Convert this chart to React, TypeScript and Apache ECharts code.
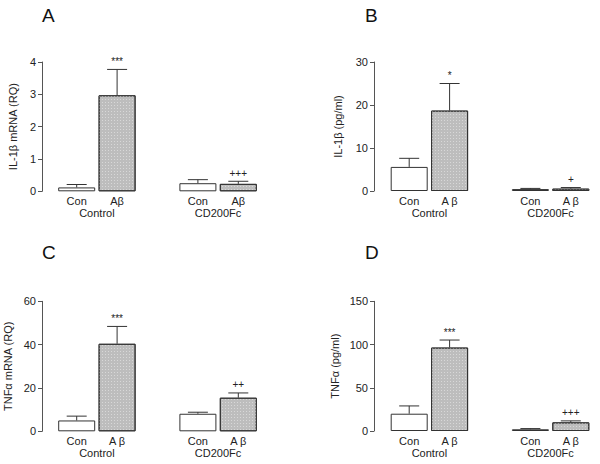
import React, { useEffect, useRef } from "react";
import * as echarts from "echarts";

const panelLetters = ["A", "B", "C", "D"];
const yTitles = ["IL-1β mRNA (RQ)", "IL-1β (pg/ml)", "TNFα mRNA (RQ)", "TNFα (pg/ml)"];
const catLabelsA = ["Con", "Aβ", "", "Con", "Aβ"];
const catLabelsOther = ["Con", "A β", "", "Con", "A β"];
const groupLabels = ["Control", "CD200Fc"];
const yMax = [4, 30, 60, 150];
const yInterval = [1, 10, 20, 50];

// bar order: Control-Con, Control-Aβ, CD200Fc-Con, CD200Fc-Aβ
const meansA = [0.12, 2.97, 0.25, 0.23];
const semA = [0.09, 0.8, 0.11, 0.08];
const sigA = ["", "***", "", "+++"];

const meansB = [5.6, 18.7, 0.45, 0.55];
const semB = [2.0, 6.3, 0.15, 0.25];
const sigB = ["", "*", "", "+"];

const meansC = [5.0, 40.4, 8.1, 15.5];
const semC = [2.0, 8.0, 0.7, 2.2];
const sigC = ["", "***", "", "++"];

const meansD = [20.0, 96.5, 2.0, 10.0];
const semD = [9.0, 8.7, 0.8, 1.7];
const sigD = ["", "***", "", "+++"];

const allMeans = [meansA, meansB, meansC, meansD];
const allSem = [semA, semB, semC, semD];
const allSig = [sigA, sigB, sigC, sigD];
const barSlots = [0, 1, 3, 4];

const FONT = "Liberation Sans, Arial, sans-serif";

// layout
const grids = [
  { left: 56.5, top: 62, width: 202, height: 129.3, axisOffset: 14.5, nameGap: 24 },
  { left: 389, top: 62, width: 202, height: 129, axisOffset: 15, nameGap: 31 },
  { left: 56.5, top: 301.3, width: 202, height: 130, axisOffset: 14.5, nameGap: 29 },
  { left: 389, top: 301.3, width: 202, height: 129.7, axisOffset: 15, nameGap: 34 },
];
const letterPos = [
  [49, 15],
  [372, 15],
  [49, 252],
  [372, 252],
];

export default function App() {
  const ref = useRef<HTMLDivElement>(null);
  useEffect(() => {
    if (!ref.current) return;
    const chart = echarts.init(ref.current, null, { renderer: "svg" });

    const grid: any[] = [];
    const xAxis: any[] = [];
    const yAxis: any[] = [];
    const series: any[] = [];
    const graphic: any[] = [];

    for (let p = 0; p < 4; p++) {
      const g = grids[p];
      grid.push({ left: g.left, top: g.top, width: g.width, height: g.height, containLabel: false });
      const cats = p === 0 ? catLabelsA : catLabelsOther;
      xAxis.push({
        type: "category",
        gridIndex: p,
        data: cats,
        axisLine: { show: false, onZero: false },
        axisTick: { show: false },
        axisLabel: { fontFamily: FONT, fontSize: 11, color: "#222", margin: 4, interval: 0 },
      });
      xAxis.push({
        type: "value",
        gridIndex: p,
        position: "bottom",
        offset: 12,
        min: -0.5,
        max: 4.5,
        interval: 0.5,
        axisLine: { show: false, onZero: false },
        axisTick: { show: false },
        splitLine: { show: false },
        axisLabel: {
          fontFamily: FONT,
          fontSize: 11,
          color: "#222",
          margin: 4,
          showMinLabel: true,
          showMaxLabel: true,
          formatter: (v: number) =>
            Math.abs(v - 0.5) < 1e-6 ? groupLabels[0] : Math.abs(v - 3.5) < 1e-6 ? groupLabels[1] : "",
        },
      });
      yAxis.push({
        type: "value",
        gridIndex: p,
        min: 0,
        max: yMax[p],
        interval: yInterval[p],
        offset: g.axisOffset,
        name: yTitles[p],
        nameLocation: "middle",
        nameGap: g.nameGap,
        nameTextStyle: { fontFamily: FONT, fontSize: 11, color: "#222" },
        axisLine: { show: true, onZero: false, lineStyle: { color: "#555", width: 1 } },
        axisTick: { show: true, length: 4, lineStyle: { color: "#555" } },
        splitLine: { show: false },
        axisLabel: { fontFamily: FONT, fontSize: 11, color: "#222", margin: 6 },
      });

      const means = allMeans[p];
      const sem = allSem[p];
      const sig = allSig[p];
      const barData: any[] = ["-", "-", "-", "-", "-"];
      barSlots.forEach((slot, i) => {
        const isAb = i % 2 === 1;
        barData[slot] = {
          value: means[i],
          itemStyle: isAb
            ? {
                color: "#bdbdbd",
                borderColor: "#333",
                borderWidth: 1,
                decal: {
                  symbol: "rect",
                  symbolSize: 1,
                  color: "#d8d8d8",
                  dashArrayX: [1, 2],
                  dashArrayY: [1, 2],
                  rotation: 0,
                },
              }
            : { color: "#ffffff", borderColor: "#333", borderWidth: 1 },
        };
      });
      series.push({
        type: "bar",
        xAxisIndex: p * 2,
        yAxisIndex: p,
        barWidth: 37,
        data: barData,
        silent: true,
      });
      const errData = barSlots.map((slot, i) => [slot, means[i], means[i] + sem[i]]);
      series.push({
        type: "custom",
        xAxisIndex: p * 2,
        yAxisIndex: p,
        data: errData,
        z: 5,
        clip: false,
        silent: true,
        itemStyle: { color: "#222" },
        renderItem: (params: any, api: any) => {
          const x = api.value(0);
          const base = api.coord([x, api.value(1)]);
          const top = api.coord([x, api.value(2)]);
          const half = 10;
          const label = sig[params.dataIndex];
          const children: any[] = [
            {
              type: "line",
              shape: { x1: top[0], y1: base[1], x2: top[0], y2: top[1] },
              style: { stroke: "#333", lineWidth: 1 },
            },
            {
              type: "line",
              shape: { x1: top[0] - half, y1: top[1], x2: top[0] + half, y2: top[1] },
              style: { stroke: "#333", lineWidth: 1 },
            },
          ];
          if (label) {
            children.push({
              type: "text",
              x: top[0],
              y: top[1] - 3,
              style: {
                text: label,
                fontFamily: FONT,
                fontSize: 10,
                fill: "#222",
                textFill: "#222",
                align: "center",
                verticalAlign: "bottom",
              },
            });
          }
          return { type: "group", children };
        },
      });

      graphic.push({
        type: "text",
        left: letterPos[p][0] - 7,
        top: letterPos[p][1] - 9,
        style: { text: panelLetters[p], fontFamily: FONT, fontSize: 19, fill: "#111" },
      });
    }

    chart.setOption({
      animation: false,
      backgroundColor: "#ffffff",
      grid,
      xAxis,
      yAxis,
      series,
      graphic,
    });
    return () => chart.dispose();
  }, []);
  return (
    <div
      ref={ref}
      style={{ position: "fixed", left: 0, top: 0, width: 600, height: 464, background: "#fff" }}
    />
  );
}
